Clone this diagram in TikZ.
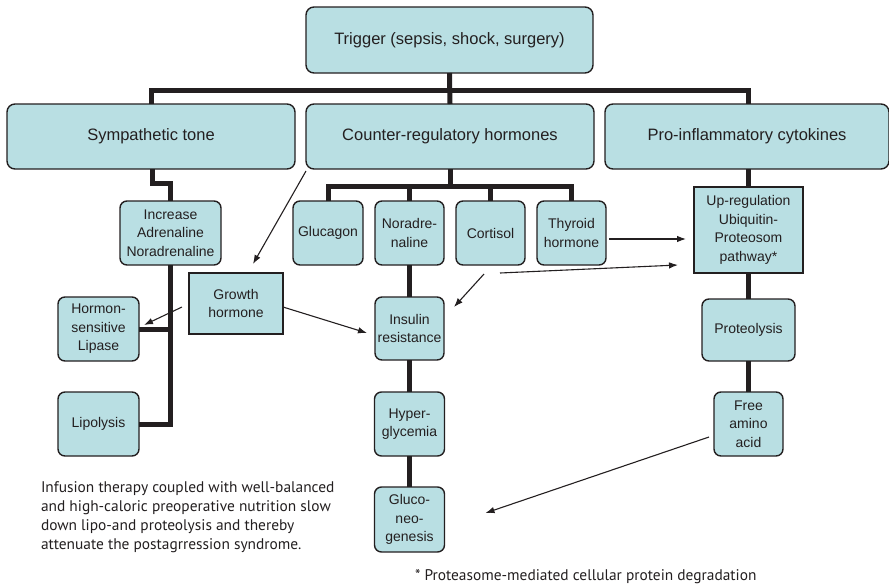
\documentclass[tikz,border=0pt]{standalone}
\usepackage{fontspec}
\setmainfont{Liberation Sans}
\newfontfamily\notefont{PT Sans}
\usetikzlibrary{arrows.meta,calc}
\definecolor{boxfill}{HTML}{B9DFE3}
\definecolor{ink}{HTML}{231F20}
\begin{document}
\begin{tikzpicture}[x=1pt,y=-1pt,
  every node/.style={inner sep=0pt,outer sep=0pt},
  base/.style={draw=ink,line width=1.4pt,fill=boxfill,align=center,text=ink},
  bigbox/.style={base,rounded corners=8pt,font=\fontsize{16.5}{20}\selectfont},
  smallbox/.style={base,rounded corners=7pt,font=\fontsize{14}{18.5}\selectfont},
  sqbox/.style={base,font=\fontsize{14}{18.5}\selectfont},
  bus/.style={draw=ink,line width=5pt},
  arr/.style={draw=ink,line width=1.1pt,-{Latex[length=9pt,width=6.5pt]}},
  note/.style={text=ink,align=left,font=\notefont\fontsize{15.4}{19}\selectfont}]
\useasboundingbox (0,0) rectangle (889,587);

% top level
\node[bigbox,minimum width=287pt,minimum height=66pt] (trig) at (449.5,40) {Trigger (sepsis, shock, surgery)};
\node[bigbox,minimum width=288pt,minimum height=65pt] (symp) at (151,136.5) {Sympathetic tone};
\node[bigbox,minimum width=288pt,minimum height=65pt] (counter) at (450,136.5) {Counter-regulatory hormones};
\node[bigbox,minimum width=284pt,minimum height=65pt] (pro) at (747,136.5) {Pro-inflammatory cytokines};

% sympathetic branch
\node[smallbox,minimum width=101pt,minimum height=64pt] (incr) at (170.5,233) {Increase\\Adrenaline\\Noradrenaline};
\node[smallbox,minimum width=81pt,minimum height=64pt] (hsl) at (98.5,329) {Hormon-\\sensitive\\Lipase};
\node[smallbox,minimum width=81pt,minimum height=64pt] (lipo) at (98.5,424) {Lipolysis};
\node[sqbox,minimum width=94pt,minimum height=61pt] (gh) at (236,303.5) {Growth\\hormone};

% counter-regulatory branch
\node[smallbox,minimum width=70pt,minimum height=64pt] (gluc) at (328,233) {Glucagon};
\node[smallbox,minimum width=69pt,minimum height=64pt] (nor) at (409.5,233) {Noradre-\\naline};
\node[smallbox,minimum width=69pt,minimum height=64pt] (cort) at (490.5,233) {Cortisol};
\node[smallbox,minimum width=69pt,minimum height=64pt] (thy) at (571.5,233) {Thyroid\\hormone};
\node[smallbox,minimum width=69pt,minimum height=63pt] (ins) at (409.5,328.5) {Insulin\\resistance};
\node[smallbox,minimum width=70pt,minimum height=64pt] (hyp) at (409.5,424) {Hyper-\\glycemia};
\node[smallbox,minimum width=70pt,minimum height=65pt] (glu) at (409.5,519.5) {Gluco-\\neo-\\genesis};

% cytokine branch
\node[sqbox,minimum width=109pt,minimum height=86pt] (upr) at (748.5,230) {Up-regulation\\Ubiquitin-\\Proteosom\\pathway*};
\node[smallbox,minimum width=93pt,minimum height=62pt] (prot) at (748.5,330) {Proteolysis};
\node[smallbox,minimum width=69pt,minimum height=64pt] (faa) at (748.5,424) {Free\\amino\\acid};

% thick tree connectors
\draw[bus] (symp.north) -- ++(0,-14) -| (upr.north |- pro.north);
\draw[bus] (trig.south) -- (counter.north);
\draw[bus] ([xshift=1pt]symp.south) -- ++(0,14) -| (incr.north);
\draw[bus] (incr.south) |- (lipo.east);
\draw[bus] (hsl.east) -- (hsl.east -| incr.south);
\draw[bus] (counter.south) -- ++(0,17);
\draw[bus] (gluc.north) -- ++(0,-15) -| (thy.north);
\draw[bus] (nor.north) -- ++(0,-15);
\draw[bus] (cort.north) -- ++(0,-15);
\draw[bus] (nor.south) -- (ins.north);
\draw[bus] (ins.south) -- (hyp.north);
\draw[bus] (hyp.south) -- (glu.north);
\draw[bus] (pro.south -| upr.north) -- (upr.north);
\draw[bus] (upr.south) -- (prot.north);
\draw[bus] (prot.south) -- (faa.north);

% thin influence arrows
\coordinate (a1s) at ($(counter.south west)+(0,2)$);
\coordinate (a1e) at ($(gh.north)+(17,-9)$);
\draw[arr] (a1s) -- (a1e);
\coordinate (a2s) at ($(gh.west)+(-7,3.5)$);
\coordinate (a2e) at ($(hsl.east)+(5,-4)$);
\draw[arr] (a2s) -- (a2e);
\coordinate (a3s) at ($(gh.east)+(0,3.5)$);
\coordinate (a3e) at ($(ins.west)+(-8,4.5)$);
\draw[arr] (a3s) -- (a3e);
\coordinate (a4s) at ($(cort.south)+(-6.5,9)$);
\coordinate (a4e) at ($(ins.east)+(10,-21.5)$);
\draw[arr] (a4s) -- (a4e);
\coordinate (a5s) at ($(cort.south)+(9.5,8)$);
\coordinate (a5e) at ($(upr.west)+(-16,35)$);
\draw[arr] (a5s) -- (a5e);
\coordinate (a6s) at ($(thy.east)+(3,6)$);
\coordinate (a6e) at ($(upr.west)+(-8,9)$);
\draw[arr] (a6s) -- (a6e);
\coordinate (a7s) at ($(faa.west)+(-5,13)$);
\coordinate (a7e) at ($(glu.east)+(41,-6.5)$);
\draw[arr] (a7s) -- (a7e);

% texts
\node[note,anchor=north west] (inf) at (41,482) {Infusion therapy coupled with well-balanced\\and high-caloric preoperative nutrition slow\\down lipo-and proteolysis and thereby\\attenuate the postagrression syndrome.};
\node[note,anchor=west] (foot) at (415,577) {* Proteasome-mediated cellular protein degradation};
\end{tikzpicture}
\end{document}
